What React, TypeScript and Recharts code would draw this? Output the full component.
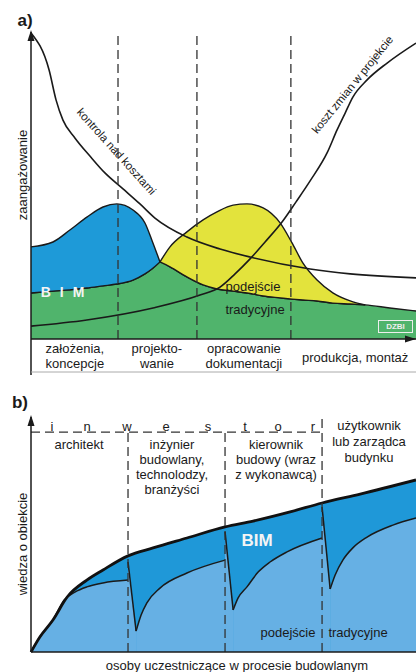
import React from "react";
import { ComposedChart, Area, Line, XAxis, YAxis, ReferenceLine } from "recharts";

const FONT = "'Liberation Sans', Arial, sans-serif";
const INK = "#1a1a1a";

// ---------- a) zaangażowanie w kolejnych fazach ----------
const phaseLabels = [["założenia,", "koncepcje"], ["projekto-", "wanie"], ["opracowanie", "dokumentacji"], ["produkcja, montaż"]];
const phaseTicks = [11.4, 32.7, 55.3, 84.2];
const phaseBounds = [22.6, 43.1, 67.5];

const engX = [0, 5.7, 10.1, 14.5, 18.7, 22.3, 26.5, 29.6, 31.4, 33.5, 36.1, 40.5, 44.7, 48.3, 52.5, 56.1, 60.3, 64.7, 67.8, 70.6, 74.3, 78.4, 82.9, 86.8, 93.2, 100];
const tradEng = [15.0, 15.6, 16.0, 16.6, 17.3, 17.9, 19.2, 21.2, 22.8, 25.1, 23.5, 20.2, 17.6, 16.3, 15.6, 15.0, 14.0, 13.4, 13.0, 12.7, 12.4, 11.7, 11.4, 11.1, 10.1, 9.1];
const bimEng = [30.0, 31.6, 35.5, 39.7, 43.0, 44.0, 42.0, 37.8, 32.2, 25.1];
const docEng = [25.1, 30.0, 34.9, 38.8, 41.4, 43.6, 44.0, 42.7, 37.8, 31.3, 24.8, 19.2, 15.0, 12.4, 11.1];
const docStart = 9;

const costCtrlX = [0, 4.7, 6.5, 8.3, 11.4, 15.3, 19.2, 23.9, 28.3, 32.2, 40.5, 49.1, 56.9, 72.5, 82.9, 100];
const costCtrlY = [99.7, 87.6, 77.9, 71.3, 65.5, 59.6, 54.1, 48.9, 44.0, 39.4, 33.2, 29.3, 26.7, 22.8, 21.2, 19.9];
const changeCostX = [0, 14.5, 31.7, 43.9, 49.1, 53.0, 56.9, 60.8, 65.2, 68.8, 72.5, 76.9, 79.5, 81.6, 83.6, 87.3, 92.5, 100];
const changeCostY = [4.2, 6.2, 10.1, 14.3, 16.9, 21.2, 26.1, 31.6, 38.1, 44.6, 51.5, 60.6, 68.1, 73.6, 78.8, 84.4, 89.9, 96.4];

// ---------- b) wiedza o obiekcie ----------
const investorLetters = ["i", "n", "w", "e", "s", "t", "o", "r"];
const roleLabels = [
  ["architekt"],
  ["inżynier", "budowlany,", "technolodzy,", "branżyści"],
  ["kierownik", "budowy (wraz", "z wykonawcą)"],
  ["użytkownik", "lub zarządca", "budynku"],
];
const roleBounds = [25.2, 50.4, 75.6];

const bimKnowX = [0, 2.3, 5.7, 9.4, 14.5, 18.7, 25.2, 31.7, 40.5, 50.4, 57.7, 67.3, 75.6, 85.5, 100];
const bimKnow = [0, 6.4, 13.6, 23.4, 30.6, 34.9, 40.9, 44.3, 48.5, 53.2, 55.7, 59.6, 63.4, 67.2, 73.2];

const tradRiseX = [
  [0, 2.3, 5.7, 8.6, 11.4, 14.5, 18.7, 25.2],
  [27.3, 28.6, 30.1, 33.5, 40.5, 50.4],
  [52.5, 53.8, 56.1, 59.0, 62.1, 66.5, 75.6],
  [77.7, 79.0, 81.0, 83.6, 87.3, 94.0, 100],
];
const tradRiseY = [
  [0, 6.4, 13.6, 22.1, 25.5, 27.7, 29.4, 30.6],
  [8.9, 15.7, 20.9, 27.2, 33.6, 39.1],
  [17.9, 23.0, 27.7, 34.0, 38.3, 42.6, 48.5],
  [26.8, 32.8, 39.1, 44.3, 48.9, 54.0, 57.0],
];
const handoverTop = [38.3, 51.1, 61.7];

const zip = (xs: number[], ys: number[]) => xs.map((x, i) => ({ x, y: ys[i] }));

const engRows = engX.map((x, i) => ({ x, trad: tradEng[i] }));
const bimRows = bimEng.map((v, i) => ({ x: engX[i], range: [tradEng[i], v] }));
const docRows = docEng.map((v, i) => ({ x: engX[docStart + i], range: [tradEng[docStart + i], v] }));

const Txt = ({ x, y, size = 13, rotate = 0, color = INK, weight = 400, spacing = 0, children }: any) => (
  <div
    style={{
      position: "absolute",
      left: x,
      top: y,
      transform: `translate(-50%, -50%) rotate(${rotate}deg)`,
      whiteSpace: "nowrap",
      fontSize: size,
      lineHeight: 1,
      color,
      fontWeight: weight,
      letterSpacing: spacing,
    }}
  >
    {children}
  </div>
);

const PhaseTick = (props: any) => {
  const { x, y, payload } = props;
  const lines = phaseLabels[phaseTicks.indexOf(payload.value)] || [];
  return (
    <text x={x} y={y} textAnchor="middle" fontSize={13} fill={INK} fontFamily={FONT}>
      {lines.map((l, i) => (
        <tspan key={i} x={x} dy={i === 0 ? (lines.length === 1 ? 22.5 : 13.5) : 15}>
          {l}
        </tspan>
      ))}
    </text>
  );
};

const dash = { stroke: "#333", strokeDasharray: "9 5", strokeWidth: 1.3 };

export default function App() {
  return (
    <div style={{ position: "absolute", left: 0, top: 0, width: 416, height: 672, overflow: "hidden", background: "#fff", fontFamily: FONT }}>
      {/* a) */}
      <div style={{ position: "absolute", left: 0, top: 0 }}>
        <ComposedChart width={416} height={380} data={engRows} margin={{ top: 32, right: 0, bottom: 6, left: 0 }}>
          <XAxis
            type="number"
            dataKey="x"
            domain={[0, 100]}
            ticks={phaseTicks}
            interval={0}
            tick={<PhaseTick />}
            tickLine={false}
            tickSize={0}
            tickMargin={0}
            height={35}
            axisLine={{ stroke: INK, strokeWidth: 1.5 }}
          />
          <YAxis type="number" domain={[0, 100]} width={31} tick={false} tickLine={false} axisLine={{ stroke: INK, strokeWidth: 1.5 }} />
          <Area type="monotone" dataKey="trad" fill="#50b46c" fillOpacity={1} stroke={INK} strokeWidth={1.4} isAnimationActive={false} />
          <Area type="monotone" data={bimRows} dataKey="range" fill="#1e9ad8" fillOpacity={1} stroke={INK} strokeWidth={1.4} isAnimationActive={false} />
          <Area type="monotone" data={docRows} dataKey="range" fill="#e3e33c" fillOpacity={1} stroke={INK} strokeWidth={1.4} isAnimationActive={false} />
          <Line type="monotone" data={zip(costCtrlX, costCtrlY)} dataKey="y" stroke={INK} strokeWidth={1.6} dot={false} activeDot={false} isAnimationActive={false} />
          <Line type="monotone" data={zip(changeCostX, changeCostY)} dataKey="y" stroke={INK} strokeWidth={1.6} dot={false} activeDot={false} isAnimationActive={false} />
          {phaseBounds.map((b) => (
            <ReferenceLine key={b} x={b} {...dash} />
          ))}
        </ComposedChart>
      </div>

      {/* b) */}
      <div style={{ position: "absolute", left: 0, top: 380 }}>
        <ComposedChart width={416} height={292} margin={{ top: 37, right: 0, bottom: 0, left: 0 }}>
          <XAxis type="number" dataKey="x" domain={[0, 100]} tick={false} tickLine={false} height={20} axisLine={{ stroke: INK, strokeWidth: 1.5 }} />
          <YAxis type="number" domain={[0, 100]} width={31} tick={false} tickLine={false} axisLine={{ stroke: INK, strokeWidth: 1.5 }} />
          <Area type="monotone" data={zip(bimKnowX, bimKnow)} dataKey="y" fill="#1f98d8" fillOpacity={1} stroke="none" isAnimationActive={false} />
          {roleBounds.map((b, i) => (
            <Area
              key={"drop" + b}
              type="linear"
              data={[{ x: b, y: handoverTop[i] }, { x: tradRiseX[i + 1][0], y: tradRiseY[i + 1][0] }]}
              dataKey="y"
              fill="#66b0e4"
              fillOpacity={1}
              stroke={INK}
              strokeWidth={1.5}
              isAnimationActive={false}
            />
          ))}
          {tradRiseX.map((xs, i) => (
            <Area
              key={"rise" + i}
              type="monotone"
              data={zip(xs, tradRiseY[i])}
              dataKey="y"
              fill="#66b0e4"
              fillOpacity={1}
              stroke={INK}
              strokeWidth={1.5}
              isAnimationActive={false}
            />
          ))}
          <Line type="monotone" data={zip(bimKnowX, bimKnow)} dataKey="y" stroke="#111" strokeWidth={2.8} dot={false} activeDot={false} isAnimationActive={false} />
          <ReferenceLine segment={[{ x: 0, y: 93.6 }, { x: roleBounds[2], y: 93.6 }]} {...dash} />
          <ReferenceLine segment={[{ x: roleBounds[0], y: 0 }, { x: roleBounds[0], y: 93.6 }]} {...dash} />
          <ReferenceLine segment={[{ x: roleBounds[1], y: 0 }, { x: roleBounds[1], y: 93.6 }]} {...dash} />
          <ReferenceLine segment={[{ x: roleBounds[2], y: 0 }, { x: roleBounds[2], y: 100 }]} {...dash} />
        </ComposedChart>
      </div>

      {/* strzałki i ramka */}
      <svg width={416} height={672} style={{ position: "absolute", left: 0, top: 0, pointerEvents: "none" }}>
        <polygon points="31,30 27.5,41 34.5,41" fill={INK} />
        <polygon points="416,339 405,335.5 405,342.5" fill={INK} />
        <polygon points="31,415 27.5,426 34.5,426" fill={INK} />
        <line x1={31} y1={339} x2={31} y2={375} stroke={INK} strokeWidth={1.5} />
        <line x1={31} y1={372} x2={416} y2={372} stroke="#aaa" strokeWidth={1} />
      </svg>

      <Txt x={25} y={20} size={17} weight={700}>a)</Txt>
      <Txt x={20} y={402} size={17} weight={700}>b)</Txt>

      <Txt x={22} y={175} rotate={-90}>zaangażowanie</Txt>
      <Txt x={116} y={152} rotate={48} size={11.5}>kontrola nad kosztami</Txt>
      <Txt x={353} y={85} rotate={-51} size={11.5}>koszt zmian w projekcie</Txt>
      <Txt x={67} y={292} size={14} weight={700} color="#f4f4f4" spacing={9}>BIM</Txt>
      <Txt x={253} y={286}>podejście</Txt>
      <Txt x={255} y={309}>tradycyjne</Txt>
      <div style={{ position: "absolute", left: 378, top: 320, width: 33, height: 11, border: "1px solid #eee", color: "#eee", fontSize: 8, fontWeight: 700, lineHeight: "11px", textAlign: "center" }}>DZBI</div>

      <Txt x={22} y={544} rotate={-90}>wiedza o obiekcie</Txt>
      {investorLetters.map((l, i) => (
        <Txt key={i} x={[52, 87, 127, 166, 208, 245, 278, 313][i]} y={426}>{l}</Txt>
      ))}
      {roleLabels.map((lines, i) =>
        lines.map((l, j) => (
          <Txt key={i + "-" + j} x={[79, 172, 276, 369][i]} y={(i === 3 ? 425 : 444) + j * (i === 3 ? 16 : 15)}>{l}</Txt>
        ))
      )}
      <Txt x={257} y={540} size={17} weight={700} color="#f4f4f4">BIM</Txt>
      <Txt x={288} y={632}>podejście</Txt>
      <Txt x={358} y={632}>tradycyjne</Txt>
      <Txt x={237} y={665}>osoby uczestniczące w procesie budowlanym</Txt>
    </div>
  );
}
